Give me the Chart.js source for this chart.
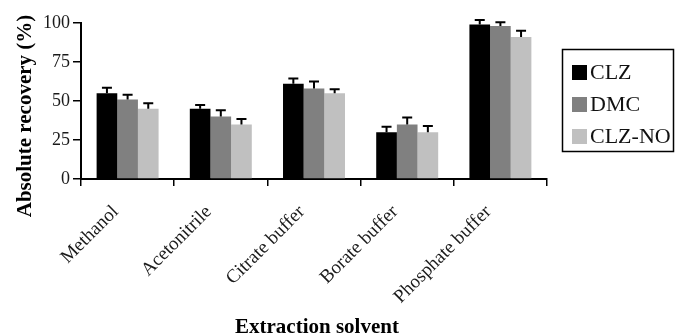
<!DOCTYPE html>
<html>
<head>
<meta charset="utf-8">
<script src="https://cdn.jsdelivr.net/npm/chart.js@4"></script>
<style>
   html, body { margin: 0; padding: 0; background: #fff; }
   #wrap { width: 675px; height: 336px; }
</style>
</head>
<body>
<div id="wrap"><canvas id="myChart" width="675" height="336"></canvas></div>
<script>
"use strict";

const solvents = ["Methanol", "Acetonitrile", "Citrate buffer", "Borate buffer", "Phosphate buffer"];
const seriesNames = ["CLZ", "DMC", "CLZ-NO"];
const clzValues = [55, 45, 61, 30, 99];
const dmcValues = [51, 40, 58, 35, 98];
const clzNoValues = [45, 35, 55, 30, 91];
const clzErrors = [3.5, 2.5, 3.5, 3.5, 3];
const dmcErrors = [3, 4, 4.5, 4.5, 2.5];
const clzNoErrors = [3.5, 3.5, 2.5, 4, 4];
const yTicks = [0, 25, 50, 75, 100];

const barColors = ["#000000", "#808080", "#c0c0c0"];
const serif = "'Liberation Serif', 'Times New Roman', serif";

// upper error bars, drawn through the chart scales
const errorBars = {
   id: "errorBars",
   afterDatasetsDraw(chart) {
      const ctx = chart.ctx;
      const y = chart.scales.y;
      ctx.save();
      ctx.strokeStyle = "#000";
      ctx.lineWidth = 2;
      chart.data.datasets.forEach((ds, i) => {
         const meta = chart.getDatasetMeta(i);
         meta.data.forEach((bar, j) => {
            const top = y.getPixelForValue(ds.data[j] + ds.errors[j]);
            ctx.beginPath();
            ctx.moveTo(bar.x, bar.y);
            ctx.lineTo(bar.x, top);
            ctx.moveTo(bar.x - 5, top);
            ctx.lineTo(bar.x + 5, top);
            ctx.stroke();
         });
      });
      ctx.restore();
   },
};

// axis titles and boxed legend
const extras = {
   id: "extras",
   afterDraw(chart) {
      const ctx = chart.ctx;
      const area = chart.chartArea;
      ctx.save();
      ctx.fillStyle = "#000";
      ctx.font = "bold 21px " + serif;
      ctx.textAlign = "center";
      ctx.textBaseline = "alphabetic";
      ctx.fillText("Extraction solvent", (area.left + area.right) / 2 + 3, 333);

      ctx.save();
      ctx.translate(31, 116);
      ctx.rotate(-Math.PI / 2);
      ctx.fillText("Absolute recovery (%)", 0, 0);
      ctx.restore();

      ctx.strokeStyle = "#000";
      ctx.lineWidth = 1.5;
      ctx.strokeRect(562.5, 49.5, 111, 102);
      ctx.font = "22px " + serif;
      ctx.textAlign = "left";
      ctx.textBaseline = "middle";
      chart.data.datasets.forEach((ds, i) => {
         const cy = 72 + i * 32;
         ctx.fillStyle = ds.backgroundColor;
         ctx.fillRect(572, cy - 7, 15, 15);
         ctx.fillStyle = "#111";
         ctx.fillText(ds.label, 590, cy + 1);
      });
      ctx.restore();
   },
};

const ctx = document.getElementById("myChart").getContext("2d");
const myChart = new Chart(ctx, {
   type: "bar",
   data: {
      labels: solvents,
      datasets: [
         { label: seriesNames[0], data: clzValues, errors: clzErrors, backgroundColor: barColors[0] },
         { label: seriesNames[1], data: dmcValues, errors: dmcErrors, backgroundColor: barColors[1] },
         { label: seriesNames[2], data: clzNoValues, errors: clzNoErrors, backgroundColor: barColors[2] },
      ],
   },
   options: {
      responsive: false,
      animation: false,
      layout: { padding: { left: 0, right: 128, top: 23, bottom: 0 } },
      datasets: { bar: { barPercentage: 1, categoryPercentage: 0.665 } },
      plugins: {
         legend: { display: false },
         tooltip: { enabled: false },
      },
      scales: {
         x: {
            afterFit(axis) {
               axis.height = 157;
            },
            grid: {
               offset: true,
               drawOnChartArea: false,
               drawTicks: true,
               tickLength: 7,
               color: "#000",
               lineWidth: 1.5,
            },
            border: { color: "#000", width: 2 },
            ticks: {
               color: "#1a1a1a",
               font: { family: serif, size: 19 },
               maxRotation: 45,
               minRotation: 45,
               padding: 15,
               labelOffset: -12,
            },
         },
         y: {
            min: 0,
            max: 100,
            afterBuildTicks(axis) {
               axis.ticks = yTicks.map((v) => ({ value: v }));
            },
            afterFit(axis) {
               axis.width = 81;
            },
            grid: {
               drawOnChartArea: false,
               drawTicks: true,
               tickLength: 8,
               color: "#000",
               lineWidth: 1.5,
            },
            border: { color: "#000", width: 2 },
            ticks: {
               color: "#1a1a1a",
               font: { family: serif, size: 18 },
               padding: 3,
            },
         },
      },
   },
   plugins: [errorBars, extras],
});
</script>
</body>
</html>
